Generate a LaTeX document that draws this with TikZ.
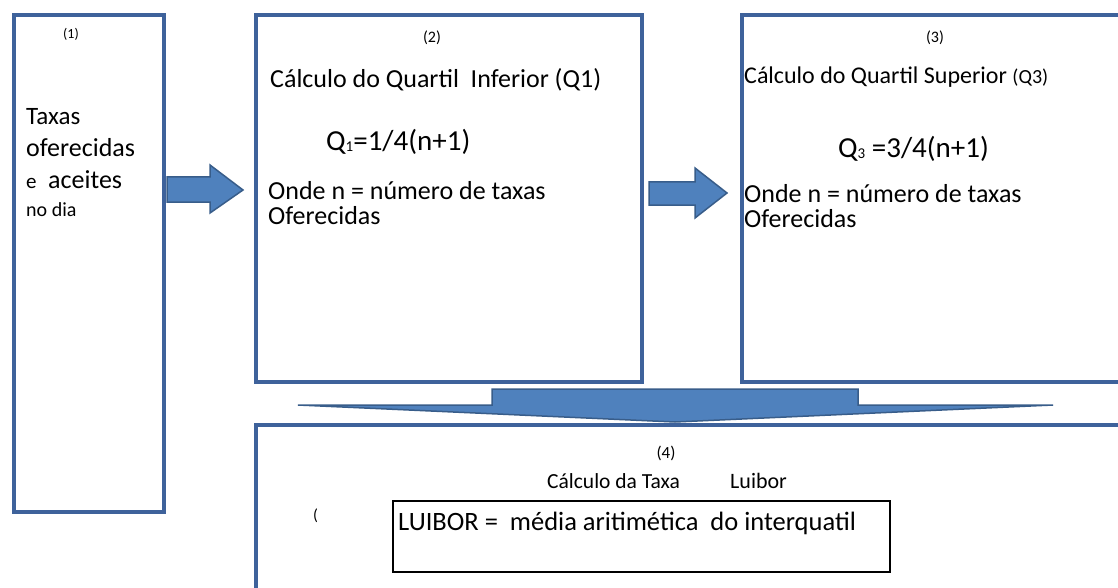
\documentclass[tikz,border=0pt]{standalone}
\usepackage{fontspec}
\setmainfont{Carlito}
\definecolor{boxblue}{RGB}{62,98,155}
\definecolor{arrowfill}{RGB}{79,129,189}
\definecolor{arrowline}{RGB}{56,93,138}
\newcommand{\fsz}[1]{\fontsize{#1}{#1}\selectfont}
\newcommand{\qsub}[1]{\raisebox{-1pt}{\fsz{15}#1}}
\begin{document}
\begin{tikzpicture}[x=1pt, y=-1pt, box/.style = {draw=boxblue, line width=4, inner sep=0, outer sep=0, anchor=north west}, txt/.style = {inner sep=0, anchor=base west}, num/.style = {inner sep=0, anchor=base, font=\fsz{16}}, blockarrow/.style = {fill=arrowfill, draw=arrowline, line width=1.5, line join=miter}]
		\fill[white] (0,0) rectangle (1118,588);
		\useasboundingbox (0,0) rectangle (1118,588);
		\clip (0,0) rectangle (1118,588);
		\node[box, minimum width=150, minimum height=497] (b1) at (14,15) {};
		\node[box, minimum width=386, minimum height=367] (b2) at (256,15) {};
		\node[box, minimum width=450, minimum height=367] (b3) at (742,15) {};
		\node[box, minimum width=900, minimum height=220] (b4) at (256,425) {};
		\node[draw, line width=1.5, inner sep=0, outer sep=0, anchor=north west, minimum width=497, minimum height=71] (luibor) at (393,501) {};
		\node[num, font=\fsz{14}] (n1) at (71,39) {(1)};
		\node[txt, font=\fsz{25}] (t1) at (26,125) {Taxas};
		\node[txt, font=\fsz{26}] (t2) at (26,157) {oferecidas};
		\node[txt, font=\fsz{21}] (t3) at (26,189) {e};
		\node[txt, font=\fsz{26}] (t4) at (48,189) {aceites};
		\node[txt, font=\fsz{20}] (t5) at (26,216) {no dia};
		\node[num] (n2) at (432,43) {(2)};
		\node[txt, font=\fsz{26}] (q1title) at (270,88) {Cálculo do Quartil\ \ Inferior (Q1)};
		\node[txt, font=\fsz{29}] (q1) at (326,151) {Q\qsub{1}=1/4(n+1)};
		\node[txt, font=\fsz{26}] (q1n) at (268,199) {Onde n = número de taxas};
		\node[txt, font=\fsz{26}] (q1o) at (268,224) {Oferecidas};
		\node[num] (n3) at (935,43) {(3)};
		\node[txt, font=\fsz{24}] (q3title) at (744,84) {Cálculo do Quartil Superior {\fsz{20}(Q3)}};
		\node[txt, font=\fsz{29}] (q3) at (838,158) {Q\qsub{3} =3/4(n+1)};
		\node[txt, font=\fsz{26}] (q3n) at (744,203) {Onde n = número de taxas};
		\node[txt, font=\fsz{26}] (q3o) at (744,227) {Oferecidas};
		\node[num, font=\fsz{17}] (n4) at (666,458) {(4)};
		\node[txt, font=\fsz{21.5}] (taxa) at (547,488) {Cálculo da Taxa};
		\node[txt, font=\fsz{22}] (lb) at (730,488) {Luibor};
		\node[txt, font=\fsz{16}] (par) at (313,520) {(};
		\node[txt, font=\fsz{26.5}] (media) at (398,530) {LUIBOR =\ \ média aritimética\ \ do interquatil};
		\path[blockarrow]
			(167,177) -- (210,177) -- (210,165) -- (243,190) -- (210,213) -- (210,202) -- (167,202) -- cycle
			(649,182) -- (695,182) -- (695,168) -- (727,193) -- (695,218) -- (695,205) -- (649,205) -- cycle
			(492,389) -- (858,389) -- (858,405) -- (1053,405) -- (675,422) -- (298,405) -- (492,405) -- cycle;
	\end{tikzpicture}
\end{document}
